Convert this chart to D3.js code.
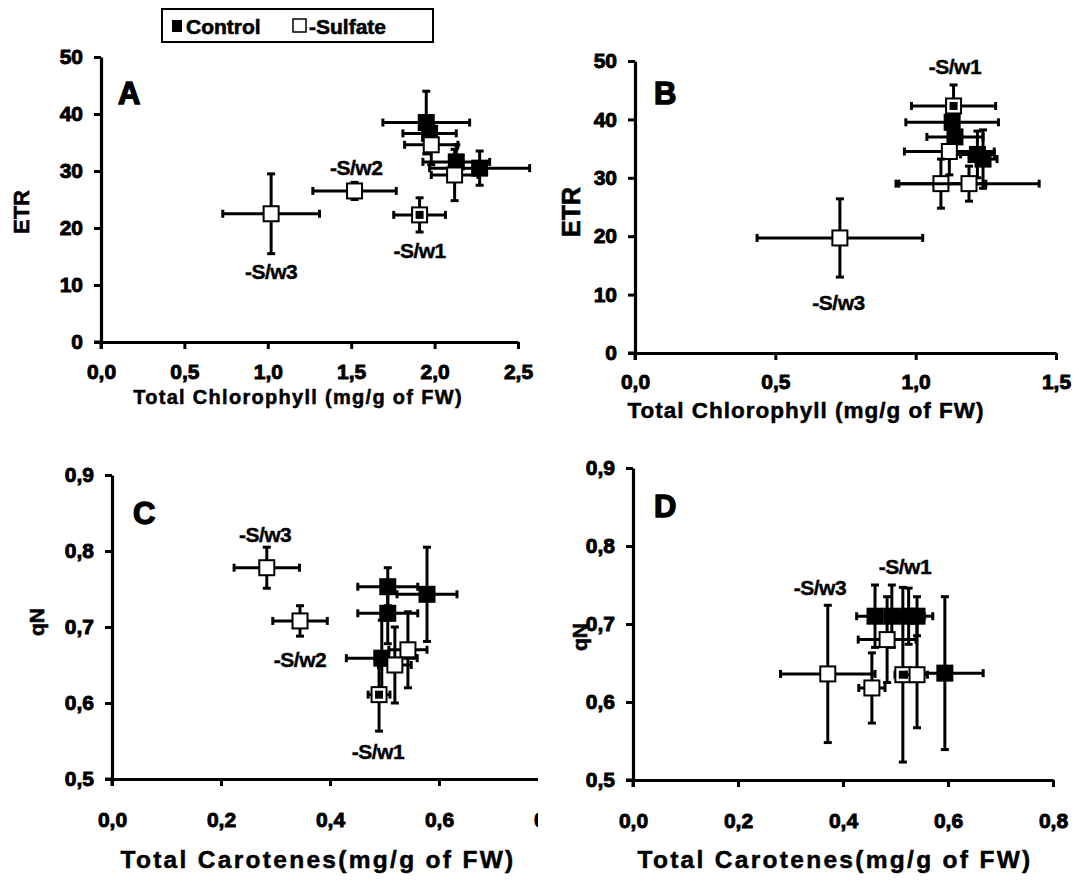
<!DOCTYPE html>
<html><head><meta charset="utf-8">
<script src="https://cdn.jsdelivr.net/npm/d3@7"></script>
<style>body{margin:0;background:#fff}svg{display:block}</style>
</head><body>
<script>
// ---------- DATA ----------
const legendLabels = ["Control", "-Sulfate"];
const panelLetters = ["A", "B", "C", "D"];

// Panel A : ETR vs Total Chlorophyll
const aCtrlX = [1.95, 1.97, 2.13, 2.27];
const aCtrlY = [38.5, 36.6, 31.6, 30.5];
const aCtrlXErr = [0.26, 0.16, 0.20, 0.30];
const aCtrlYErr = [5.5, 3.0, 3.0, 3.0];
const aSulfX = [1.98, 2.12, 1.91, 1.52, 1.02];
const aSulfY = [34.6, 29.3, 22.3, 26.5, 22.5];
const aSulfXErr = [0.16, 0.14, 0.155, 0.25, 0.29];
const aSulfYErr = [3.5, 4.5, 3.0, 1.5, 7.0];
const aSulfDark = [false, false, true, false, false];
const aLabels = ["-S/w2", "-S/w3", "-S/w1"];
const aLabelX = [1.53, 1.02, 1.91];
const aLabelY = [30.6, 12.3, 16.0];

// Panel B : ETR vs Total Chlorophyll
const bCtrlX = [1.13, 1.14, 1.22, 1.24];
const bCtrlY = [39.5, 37.0, 34.0, 33.2];
const bCtrlXErr = [0.165, 0.10, 0.06, 0.05];
const bCtrlYErr = [3.0, 3.0, 4.0, 5.0];
const bSulfX = [1.135, 1.12, 1.09, 1.19, 0.73];
const bSulfY = [42.3, 34.5, 29.0, 29.0, 19.7];
const bSulfXErr = [0.15, 0.16, 0.16, 0.25, 0.295];
const bSulfYErr = [3.6, 4.0, 4.2, 3.0, 6.7];
const bSulfDark = [true, false, false, false, false];
const bLabels = ["-S/w1", "-S/w3"];
const bLabelX = [1.14, 0.725];
const bLabelY = [49.0, 8.7];

// Panel C : qN vs Total Carotenes
const cCtrlX = [0.506, 0.578, 0.506, 0.495];
const cCtrlY = [0.753, 0.743, 0.718, 0.659];
const cCtrlXErr = [0.055, 0.055, 0.055, 0.065];
const cCtrlYErr = [0.025, 0.062, 0.04, 0.05];
const cSulfX = [0.543, 0.519, 0.490, 0.345, 0.284];
const cSulfY = [0.670, 0.650, 0.611, 0.708, 0.778];
const cSulfXErr = [0.035, 0.03, 0.02, 0.05, 0.06];
const cSulfYErr = [0.05, 0.05, 0.048, 0.02, 0.027];
const cSulfDark = [false, false, true, false, false];
const cLabels = ["-S/w3", "-S/w2", "-S/w1"];
const cLabelX = [0.281, 0.345, 0.488];
const cLabelY = [0.821, 0.657, 0.536];

// Panel D : qN vs Total Carotenes
const dCtrlX = [0.461, 0.493, 0.525, 0.541, 0.594];
const dCtrlY = [0.710, 0.710, 0.710, 0.710, 0.637];
const dCtrlXErr = [0.035, 0.03, 0.03, 0.03, 0.073];
const dCtrlYErr = [0.04, 0.04, 0.036, 0.025, 0.098];
const dSulfX = [0.371, 0.455, 0.484, 0.514, 0.541];
const dSulfY = [0.636, 0.618, 0.680, 0.635, 0.635];
const dSulfXErr = [0.09, 0.025, 0.055, 0.015, 0.02];
const dSulfYErr = [0.088, 0.045, 0.055, 0.112, 0.068];
const dSulfDark = [false, false, false, true, false];
const dLabels = ["-S/w3", "-S/w1"];
const dLabelX = [0.356, 0.518];
const dLabelY = [0.746, 0.773];

const etrTicks = [0, 10, 20, 30, 40, 50];
const qnTicks = [0.5, 0.6, 0.7, 0.8, 0.9];
const chlTicksA = [0, 0.5, 1.0, 1.5, 2.0, 2.5];
const chlTicksB = [0, 0.5, 1.0, 1.5];
const carTicks = [0, 0.2, 0.4, 0.6, 0.8];

const xTitleChl = "Total Chlorophyll (mg/g of FW)";
const xTitleCar = "Total Carotenes(mg/g of FW)";

// ---------- DRAW ----------
const W = 1079, H = 881;
const svg = d3.select("body").append("svg").attr("width", W).attr("height", H);
const FONTW = "'Liberation Sans',Arial,sans-serif";
const comma1 = d => d3.format(".1f")(d).replace(".", ",");
const intf = d => d3.format("d")(d);

function zip(xs, ys, xe, ye, dark) {
  return xs.map((v, i) => ({x: v, y: ys[i], xe: xe[i], ye: ye[i], dark: dark ? dark[i] : false}));
}

function heavy(sel, size, sw) {
  sel.attr("font-family", FONTW).attr("font-weight", "bold").attr("font-size", size)
    .attr("fill", "#000").attr("stroke", "#000").attr("stroke-width", sw).attr("paint-order", "stroke");
}

let clipId = 0;
function panel(cfg) {
  const x = d3.scaleLinear().domain(cfg.xDomain).range([cfg.left, cfg.right]);
  const y = d3.scaleLinear().domain(cfg.yDomain).range([cfg.bottom, cfg.top]);
  const g = svg.append("g");
  let ag = g;
  if (cfg.clipRight) {
    const id = "clip" + (clipId++);
    svg.append("clipPath").attr("id", id).append("rect")
      .attr("x", 0).attr("y", cfg.top - 40).attr("width", cfg.clipRight).attr("height", cfg.bottom - cfg.top + 130);
    ag = g.append("g").attr("clip-path", `url(#${id})`);
  }

  const ax = ag.append("g").attr("transform", `translate(0,${cfg.bottom})`)
    .call(d3.axisBottom(x).tickValues(cfg.xTicks).tickFormat(cfg.xFmt).tickSizeInner(7).tickSizeOuter(0).tickPadding(cfg.xPad));
  const ay = g.append("g").attr("transform", `translate(${cfg.left},0)`)
    .call(d3.axisLeft(y).tickValues(cfg.yTicks).tickFormat(cfg.yFmt).tickSizeInner(7).tickSizeOuter(0).tickPadding(cfg.yPad));
  [ax, ay].forEach(a => {
    a.select(".domain").attr("stroke", "#000").attr("stroke-width", 3.2);
    a.selectAll(".tick line").attr("stroke", "#000").attr("stroke-width", 3);
    heavy(a.selectAll(".tick text"), cfg.tickSize, 0.9);
  });
  // small crossing at origin
  g.append("line").attr("x1", cfg.left - 7).attr("x2", cfg.left).attr("y1", cfg.bottom).attr("y2", cfg.bottom).attr("stroke", "#000").attr("stroke-width", 3);
  g.append("line").attr("x1", cfg.left).attr("x2", cfg.left).attr("y1", cfg.bottom).attr("y2", cfg.bottom + 7).attr("stroke", "#000").attr("stroke-width", 3);

  // titles
  heavy(g.append("text").attr("x", cfg.xTitlePos[0]).attr("y", cfg.xTitlePos[1]).attr("text-anchor", "middle")
    .attr("letter-spacing", cfg.xTitleSpacing || 0).text(cfg.xTitle), cfg.xTitleSize, 0.5);
  heavy(g.append("text").attr("transform", `translate(${cfg.yTitlePos[0]},${cfg.yTitlePos[1]}) rotate(-90)`)
    .attr("text-anchor", "middle").text(cfg.yTitle), cfg.yTitleSize, 0.6);
  heavy(g.append("text").attr("x", cfg.letterPos[0]).attr("y", cfg.letterPos[1]).text(cfg.letter), 31, 1.4);

  const cap = 4;
  function drawPts(pts, filled) {
    pts.forEach(p => {
      const px = x(p.x), py = y(p.y);
      const xl = x(p.x - p.xe), xr = x(p.x + p.xe), yt = y(p.y + p.ye), yb = y(p.y - p.ye);
      const eg = g.append("g").attr("stroke", "#000").attr("stroke-width", 3);
      eg.append("line").attr("x1", xl).attr("x2", xr).attr("y1", py).attr("y2", py);
      eg.append("line").attr("x1", px).attr("x2", px).attr("y1", yt).attr("y2", yb);
      [xl, xr].forEach(v => eg.append("line").attr("x1", v).attr("x2", v).attr("y1", py - cap).attr("y2", py + cap));
      [yt, yb].forEach(v => eg.append("line").attr("y1", v).attr("y2", v).attr("x1", px - cap).attr("x2", px + cap));
      const s = 15;
      g.append("rect").attr("x", px - s / 2).attr("y", py - s / 2).attr("width", s).attr("height", s)
        .attr("fill", filled ? "#000" : "#fff").attr("stroke", "#000").attr("stroke-width", 2);
      if (p.dark) {
        g.append("rect").attr("x", px - 4).attr("y", py - 4).attr("width", 8).attr("height", 8).attr("fill", "#000");
      }
    });
  }
  drawPts(cfg.ctrl, true);
  drawPts(cfg.sulf, false);

  cfg.labels.forEach((t, i) => {
    heavy(g.append("text").attr("x", x(cfg.labelX[i])).attr("y", y(cfg.labelY[i])).attr("dy", "0.35em")
      .attr("text-anchor", "middle").attr("letter-spacing", -0.5).text(t), 21, 0.4);
  });
}

panel({
  letter: panelLetters[0], letterPos: [118, 104],
  xDomain: [0, 2.5], yDomain: [0, 50], left: 101, right: 518, bottom: 342, top: 57,
  xTicks: chlTicksA, yTicks: etrTicks, xFmt: comma1, yFmt: intf, tickSize: 21, xPad: 15, yPad: 11,
  xTitle: xTitleChl, xTitlePos: [298, 404], xTitleSize: 20, xTitleSpacing: 1.3,
  yTitle: "ETR", yTitlePos: [29, 212], yTitleSize: 22,
  ctrl: zip(aCtrlX, aCtrlY, aCtrlXErr, aCtrlYErr), sulf: zip(aSulfX, aSulfY, aSulfXErr, aSulfYErr, aSulfDark),
  labels: aLabels, labelX: aLabelX, labelY: aLabelY
});
panel({
  letter: panelLetters[1], letterPos: [654, 104],
  xDomain: [0, 1.5], yDomain: [0, 50], left: 635, right: 1056, bottom: 353, top: 61,
  xTicks: chlTicksB, yTicks: etrTicks, xFmt: comma1, yFmt: intf, tickSize: 21, xPad: 14, yPad: 11,
  xTitle: xTitleChl, xTitlePos: [806, 418], xTitleSize: 22.5, xTitleSpacing: 1,
  yTitle: "ETR", yTitlePos: [580, 212], yTitleSize: 25,
  ctrl: zip(bCtrlX, bCtrlY, bCtrlXErr, bCtrlYErr), sulf: zip(bSulfX, bSulfY, bSulfXErr, bSulfYErr, bSulfDark),
  labels: bLabels, labelX: bLabelX, labelY: bLabelY
});
panel({
  letter: panelLetters[2], letterPos: [133, 524],
  xDomain: [0, 0.8], yDomain: [0.5, 0.9], left: 112, right: 548, bottom: 779, top: 475,
  xTicks: carTicks, yTicks: qnTicks, xFmt: comma1, yFmt: comma1, tickSize: 21, xPad: 26, yPad: 11,
  xTitle: xTitleCar, xTitlePos: [318, 868], xTitleSize: 24.5, xTitleSpacing: 2.3,
  yTitle: "qN", yTitlePos: [44, 622], yTitleSize: 21,
  ctrl: zip(cCtrlX, cCtrlY, cCtrlXErr, cCtrlYErr), sulf: zip(cSulfX, cSulfY, cSulfXErr, cSulfYErr, cSulfDark),
  labels: cLabels, labelX: cLabelX, labelY: cLabelY, clipRight: 538
});
panel({
  letter: panelLetters[3], letterPos: [654, 517],
  xDomain: [0, 0.8], yDomain: [0.5, 0.9], left: 633, right: 1053, bottom: 780, top: 468,
  xTicks: carTicks, yTicks: qnTicks, xFmt: comma1, yFmt: comma1, tickSize: 21, xPad: 26, yPad: 11,
  xTitle: xTitleCar, xTitlePos: [835, 868], xTitleSize: 24.5, xTitleSpacing: 2.3,
  yTitle: "qN", yTitlePos: [587, 637], yTitleSize: 21,
  ctrl: zip(dCtrlX, dCtrlY, dCtrlXErr, dCtrlYErr), sulf: zip(dSulfX, dSulfY, dSulfXErr, dSulfYErr, dSulfDark),
  labels: dLabels, labelX: dLabelX, labelY: dLabelY
});

// Legend
const lg = svg.append("g");
lg.append("rect").attr("x", 162).attr("y", 9).attr("width", 271).attr("height", 33)
  .attr("fill", "#fff").attr("stroke", "#000").attr("stroke-width", 2);
lg.append("rect").attr("x", 172).attr("y", 20).attr("width", 10).attr("height", 12).attr("fill", "#000");
heavy(lg.append("text").attr("x", 186).attr("y", 34).text(legendLabels[0]), 21, 0.6);
lg.append("rect").attr("x", 293).attr("y", 19).attr("width", 13).attr("height", 13)
  .attr("fill", "#fff").attr("stroke", "#000").attr("stroke-width", 1.5);
heavy(lg.append("text").attr("x", 309).attr("y", 34).text(legendLabels[1]), 21, 0.6);
</script>
</body></html>
